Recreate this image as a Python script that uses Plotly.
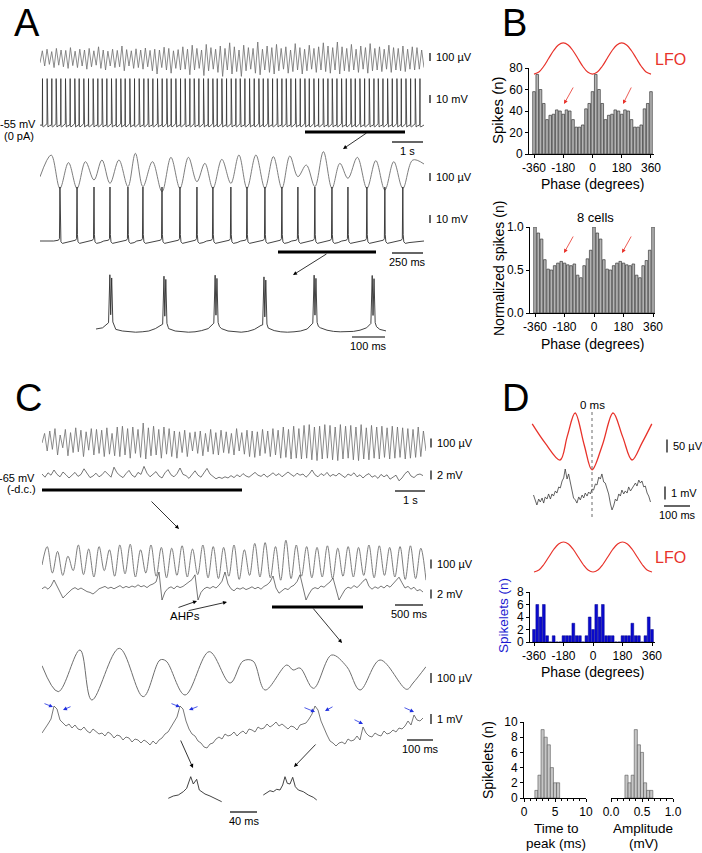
import numpy as np
import plotly.graph_objects as go

W, H = 702, 853
FONT = "Liberation Sans, Arial, Helvetica, sans-serif"

# ======================= DATA =======================
# ---- Panel B: spike-phase histograms (20 deg bins) ----
phase_bins = list(range(-360, 361, 20))
b_spikes = [58, 74, 60, 47, 32, 36, 37, 41, 40, 37, 41, 40, 32, 25, 25, 27, 42, 47,
            58, 74, 60, 47, 32, 36, 37, 41, 40, 37, 41, 40, 32, 25, 25, 27, 42, 47, 58]
b_norm = [1.0, 0.93, 0.86, 0.62, 0.51, 0.50, 0.55, 0.58, 0.60, 0.58, 0.56, 0.55, 0.57, 0.44, 0.41, 0.55, 0.63, 0.73,
          1.0, 0.93, 0.86, 0.62, 0.51, 0.50, 0.55, 0.58, 0.60, 0.58, 0.56, 0.55, 0.57, 0.44, 0.41, 0.55, 0.61, 0.73, 1.0]
# ---- Panel D: spikelet-phase histogram ----
d_spikelets = [2, 6, 4, 6, 1, 0, 1, 0, 0, 1, 1, 1, 3, 1, 1, 0, 1, 4,
               2, 6, 4, 6, 1, 1, 1, 0, 0, 1, 1, 1, 3, 1, 1, 0, 1, 4, 2]
# LFO reference wave drawn above the phase histograms
lfo_phase = list(range(-360, 361, 30))
lfo_shape = [-1.0, -0.87, -0.5, 0.0, 0.5, 0.87, 1.0, 0.87, 0.5, 0.0, -0.5, -0.87, -1.0,
             -0.87, -0.5, 0.0, 0.5, 0.87, 1.0, 0.87, 0.5, 0.0, -0.5, -0.87, -1.0]
# ---- Panel D: time-to-peak and amplitude histograms ----
ttp_bins = [2.0, 2.5, 3.0, 3.5, 4.0, 4.5, 5.0, 5.5]
ttp_counts = [1, 3, 9, 8, 7, 4, 2, 2]
amp_bins = [0.25, 0.30, 0.35, 0.40, 0.45, 0.50, 0.55, 0.60, 0.65]
amp_counts = [3, 2, 3, 9, 7, 6, 2, 1, 1]

# ---- Panel A, top: LFP extrema (uV) over 12.35 s and spike times (s) ----
a1_dur = 12.35
a1_lfp = [-60, 90, -100, 110, -80, 80, -120, 120, -90, 100, -110, 95, -130, 130, -95, 85, -120, 110, -100, 100,
          -140, 120, -110, 90, -90, 140, -130, 100, -150, 85, -100, 110, -120, 95, -110, 150, -160, 105, -100, 90,
          -130, 115, -120, 100, -140, 125, -110, 95, -160, 110, -200, 100, -120, 135, -150, 120, -190, 90, -130, 105,
          -150, 140, -140, 110, -210, 160, -150, 120, -130, 100, -220, 170, -160, 130, -140, 110, -180, 150, -230, 120,
          -150, 190, -200, 140, -170, 100, -230, 160, -160, 130, -140, 120, -190, 200, -210, 110, -150, 150, -180, 130,
          -200, 170, -160, 120, -140, 140, -190, 100, -170, 180, -150, 130, -200, 110, -160, 160, -140, 120, -180, 140,
          -150, 190, -170, 150, -190, 130, -150, 200, -200, 140, -160, 120, -170, 170, -150, 110, -180, 150, -140, 130,
          -190, 180, -160, 120, -150, 140, -170, 110, -140, 160, -180, 130, -150, 120, -160, 150, -170, 110, -140, 140,
          -150, 130, -140, 100, -120]
a1_spk = [0.08, 0.23, 0.38, 0.52, 0.67, 0.82, 0.97, 1.12, 1.26, 1.41, 1.56, 1.71, 1.86, 2.00, 2.15, 2.30, 2.45,
          2.60, 2.74, 2.89, 3.04, 3.19, 3.34, 3.48, 3.63, 3.78, 3.93, 4.08, 4.22, 4.37, 4.52, 4.67, 4.82, 4.96,
          5.11, 5.26, 5.41, 5.56, 5.70, 5.85, 6.00, 6.15, 6.30, 6.44, 6.59, 6.74, 6.89, 7.04, 7.18, 7.33, 7.48,
          7.63, 7.78, 7.92, 8.07, 8.22, 8.37, 8.52, 8.66, 8.81, 8.96, 9.11, 9.26, 9.40, 9.55, 9.70, 9.85, 10.00,
          10.14, 10.29, 10.44, 10.59, 10.74, 10.88, 11.03, 11.18, 11.33, 11.48, 11.62, 11.77, 11.92, 12.07, 12.22]

# ---- Panel A, middle (expanded, 3.1 s) ----
a2_dur = 3.1
a2_spk = [0.161, 0.299, 0.436, 0.565, 0.710, 0.831, 0.985, 1.130, 1.267, 1.396, 1.541, 1.671, 1.816,
          1.953, 2.082, 2.219, 2.357, 2.486, 2.639, 2.784, 2.929]
a2_lfp_t = [0.0, 0.09, 0.161, 0.23, 0.299, 0.367, 0.436, 0.50, 0.565, 0.637, 0.71, 0.77, 0.831, 0.908, 0.985,
            1.057, 1.13, 1.198, 1.267, 1.331, 1.396, 1.468, 1.541, 1.606, 1.671, 1.743, 1.816, 1.884, 1.953,
            2.017, 2.082, 2.15, 2.219, 2.288, 2.357, 2.421, 2.486, 2.562, 2.639, 2.711, 2.784, 2.856, 2.929,
            3.01, 3.1]
a2_lfp_v = [-60, 212, -204, 117, -204, 129, -100, 150, -142, 150, -183, 233, -183, 129, -246,
            183, -204, 183, -121, 108, -204, 158, -142, 212, -204, 212, -204, 192, -204,
            200, -58, 87, -183, 254, -204, 108, -79, 183, -204, 142, -225, 129, -204,
            150, 100]

# ---- Panel A, bottom (0.88 s): doublet spike times and baseline Vm (mV, every 20 ms) ----
a3_spk = [0.042, 0.206, 0.361, 0.509, 0.661, 0.837]
a3_base = [-57.5, -56, -51, -58, -60, -61, -61.5, -61, -60, -57, -52, -57, -60, -61, -61.5, -61, -59.5, -57,
           -52, -57, -60, -61, -61.5, -60.5, -58, -53, -56, -59.5, -61, -61.5, -61, -60, -57.5, -52, -56,
           -59, -60.5, -61, -61, -60.5, -59, -56, -52, -58, -60]

# ---- Panel C, top (12.8 s): LFP extrema (uV) and Vm deviations (mV, 0.1 s apart) ----
c1_dur = 12.8
c1_lfp = [0, 120, -100, 150, -80, 180, -150, 100, -60, 170, -160, 130, -120, 190, -110, 160, -170, 140, -90, 180,
          -150, 170, -130, 160, -170, 190, -140, 120, -160, 200, -170, 210, -150, 180, -190, 200, -130, 170, -180, 250,
          -200, 190, -160, 210, -150, 170, -190, 200, -140, 180, -170, 150, -190, 140, -120, 160, -170, 130, -100, 140,
          -130, 150, -160, 120, -110, 170, -140, 130, -150, 160, -120, 140, -130, 120, -150, 180, -100, 130, -140, 160,
          -170, 150, -180, 140, -160, 170, -130, 150, -170, 180, -150, 160, -190, 200, -180, 170, -200, 210, -190, 180,
          -200, 220, -190, 230, -210, 200, -220, 210, -200, 230, -190, 220, -210, 200, -220, 230, -200, 210, -190, 220,
          -210, 200, -220, 230, -200, 190, -210, 220, -190, 200, -200, 210, -180, 190, -200, 210, -190, 200, -180, 190,
          -200, 180, -190, 170, -180, 200, -170, 150, -100]
c1_vm = [0.5, -0.3, 0.8, 0.2, 1.5, 0.4, -0.2, 1.0, 0.3, -0.5, 0.2, 0.9, -0.1, 0.4, 1.8, 0.6, -0.4, 0.0, 0.7, -0.2,
         0.3, 1.2, 0.5, -0.3, 2.2, 0.8, 0.1, -0.4, 0.6, 1.4, 0.2, -0.3, 0.9, 0.4, 2.4, 0.7, -0.2, 0.5, 1.1, 0.0,
         -0.5, 0.8, 1.6, 0.3, -0.2, 0.6, 2.0, 0.4, 0.1, -0.6, 0.5, 1.3, 0.2, -0.3, 0.8, 1.9, 0.5, -0.2, -0.7, -0.3,
         -0.6, -0.2, -0.5, 0.1, -0.4, 0.3, -0.2, 0.6, 0.0, -0.3, 0.4, 0.9, 0.2, -0.1, 0.5, -0.3, 0.2, 0.8, 0.1, 0.6,
         -0.2, 0.3, 1.0, 0.4, -0.1, 0.7, 0.2, 0.5, -0.3, 0.4, 1.5, 0.3, -0.2, 0.6, 0.1, 0.9, -0.1, 0.4, 0.0, 0.7,
         0.2, -0.4, 0.5, 0.1, 0.8, -0.2, 0.3, -0.5, 0.2, 0.6, -0.3, 0.1, -0.6, 0.4, -0.2, 0.3, -0.8, -0.3, 0.2, -1.2,
         -0.5, 0.6, 1.2, 0.0, -0.4, 0.3, 0.5, 0.1]

# ---- Panel C, middle (6.4 s) ----
c2_dur = 6.4
c2_lfp = [-50, 180, -150, 120, -180, 60, -120, 200, -170, 150, -200, 180, -120, 140, -190, 200, -160, 210, -200, 140,
          -150, 200, -190, 170, -210, 160, -180, 190, -200, 150, -170, 200, -210, 180, -220, 170, -190, 200, -230, 140,
          -180, 220, -200, 230, -210, 180, -240, 260, -220, 200, -190, 180, -210, 170, -200, 190, -220, 160, -190, 180,
          -200, 170, -180, 200, -210, 190, -180, 170, -200, 180, -230, 190, -220, 160, -240]
c2_vm = [0.3, 0.8, 0.2, 1.0, 2.5, 0.9, -0.8, -2.0, -1.2, -0.5, 0.2, 0.6, 0.1, 0.5, 0.0, -0.4, -0.6, -1.0, -0.4, 0.3,
         0.6, 0.9, 0.4, 0.7, 0.3, 0.8, 1.1, 0.5, 0.9, 0.6, 1.0, 0.7, 1.3, 0.8, 1.1, 0.6, 1.2, 1.5, 2.0, 4.5,
         -2.5, -0.5, 0.4, 0.8, 0.3, 1.0, 0.6, 0.9, 1.4, 2.0, 2.6, 3.8, -2.5, -0.6, 0.3, 0.7, 0.4, 0.9, 0.5, 1.2,
         2.2, 4.5, 1.5, 0.3, -0.2, 0.5, 0.2, 0.6, 0.1, 0.4, 0.8, 0.3, 0.7, 0.2, 0.9, 1.3, 2.0, 3.5, 0.5, -0.8,
         -0.3, 0.4, 0.1, 0.8, 1.2, 2.1, 3.8, 0.4, -2.5, -1.0, 0.2, 0.6, 0.3, 1.0, 0.7, 1.4, 2.0, 3.0, 0.3, -2.5,
         -1.2, 0.1, 0.7, 0.4, 1.1, 0.6, 1.3, 2.2, 2.8, 0.9, 0.2, 0.8, 0.4, 1.0, 0.5, 1.2, 0.7, 1.6, 2.4, 3.2,
         1.8, 0.5, 0.9, 0.2, 0.7, -0.2, 0.1, -0.5]

# ---- Panel C, bottom (1.4 s) ----
c3_dur = 1.396
c3_lfp_t = [0.000, 0.059, 0.138, 0.181, 0.281, 0.368, 0.429, 0.451, 0.520, 0.608, 0.684, 0.731, 0.767,
            0.811, 0.890, 0.913, 0.938, 0.987, 1.053, 1.108, 1.156, 1.229, 1.326, 1.349, 1.396]
c3_lfp_v = [112, -200, 300, -300, 320, -260, 180, 168, -240, 280, -96, 168, 168,
            -180, 120, 60, 84, -160, 240, 100, -180, 180, -172, -96, 100]
c3_vm = [-0.3, 0.1, 0.6, 1.1, 2.4, 2.1, 1.0, 0.7, 0.4, 0.6, 0.2, 0.5, 0.1, 0.0, 0.3, -0.1, -0.3, 0.1, -0.2, -0.4,
         -0.3, -0.6, -0.2, -0.4, -0.8, -0.5, -0.6, -1.0, -0.7, -0.8, -1.2, -0.9, -1.0, -1.3, -1.0, -1.2, -1.5, -1.1, -1.4, -1.0,
         -0.8, -0.4, -0.2, 0.3, 0.7, 1.3, 2.4, 2.1, 0.9, 0.1, -0.4, -0.6, -1.1, -1.3, -1.7, -1.8, -1.4, -1.3, -0.9, -0.7,
         -0.9, -0.4, -0.6, -0.5, -0.2, -0.6, -0.3, -0.1, -0.4, 0.1, 0.0, -0.2, 0.3, 0.1, 0.2, 0.6, 0.3, 0.5, 0.8, 0.4,
         0.6, 0.3, 0.1, 0.4, 0.3, 0.0, 0.5, 0.6, 0.7, 1.1, 1.6, 2.4, 2.0, 0.9, 0.1, -0.5, -1.1, -1.3, -1.6, -1.3,
         -1.2, -1.4, -0.9, -1.1, -1.0, -0.6, -1.0, 0.3, -0.3, -0.6, -0.7, -0.3, -0.5, -0.6, -0.1, -0.4, -0.3, 0.0, -0.2, 0.2,
         0.1, 0.4, 0.9, 0.5, 1.5, 1.0, 0.9, 1.2]
# spikelet insets (ms, mV)
ins1_t = [0, 7.4, 14.8, 22.2, 27.2, 33.2, 37.0, 42.0, 45.9, 54.3, 61.7, 69.1, 79.0]
ins1_v = [0.0, 0.23, 0.33, 0.66, 1.0, 2.16, 1.43, 1.9, 0.83, 0.43, 0.23, 0.0, -0.34]
ins2_t = [0, 5.0, 9.9, 14.8, 19.8, 24.7, 28.7, 32.1, 35.5, 39.5, 43.5, 47.4, 51.8, 59.2, 66.6, 74.0, 79.1]
ins2_v = [0, 0.23, 0.43, 0.33, 0.57, 0.5, 1.0, 1.83, 1.17, 1.1, 1.77, 0.83, 0.5, 0.33, 0.0, -0.23, -0.5]

# ---- Panel D: spike-triggered averages (ms) ----
d_lfp_t = [-230, -180, -123, -95, -65, -30, 0, 40, 81, 118, 154, 192, 230]
d_lfp_v = [62, -12, -77, 15, 104, -19, -115, -19, 104, 12, -77, -12, 62]
d_vm_t = [-225, -218, -212, -205, -199, -192, -186, -180, -173, -167, -160, -154, -148, -141, -135, -128, -122,
          -115, -109, -103, -96, -90, -83, -77, -71, -64, -58, -51, -45, -38, -32, -26, -19, -13, -6, 0, 6, 13,
          19, 26, 32, 38, 45, 51, 58, 64, 71, 77, 83, 90, 96, 103, 109, 115, 122, 128, 135, 141, 148, 154, 160,
          167, 173, 180, 186, 192, 199, 205, 212, 218, 225]
d_vm_v = [0.0, -0.38, -0.77, -0.31, -0.54, -0.23, -0.62, -0.15, -0.31, 0.08, -0.31, 0.08, -0.08, 0.31, 0.15, 0.62,
          0.54, 1.08, 1.31, 2.0, 1.23, 1.62, 0.85, 0.31, -0.23, -0.38, -0.62, -0.15, -0.38, 0.0, -0.23, 0.15, -0.08,
          0.23, 0.08, 0.46, 0.38, 0.85, 0.77, 1.38, 1.23, 1.62, 1.0, 0.92, 0.54, 0.08, -0.69, -1.15, -0.85, -0.31,
          -0.46, 0.08, -0.08, 0.38, 0.08, 0.31, 0.15, 0.62, 0.31, 0.54, 0.69, 0.92, 0.69, 1.15, 0.92, 1.08, 0.62,
          0.69, 0.15, -0.08, -0.54]

# ======================= FIGURE HELPERS =======================
layout = dict(width=W, height=H, margin=dict(l=0, r=0, t=0, b=0, pad=0), paper_bgcolor="white",
              plot_bgcolor="rgba(0,0,0,0)", showlegend=False, barmode="overlay", autosize=False,
              font=dict(family=FONT, size=11, color="black"))
traces, shapes, annots = [], [], []
n_ax = [0]


def px(x):
    return x / W


def py(y):
    return 1 - y / H


def new_axes(box, xr, yr, xstyle=None, ystyle=None):
    n_ax[0] += 1
    s = "" if n_ax[0] == 1 else str(n_ax[0])
    x0, x1, y0, y1 = box
    xa = dict(domain=[px(x0), px(x1)], range=xr, anchor="y" + s, visible=False, fixedrange=True, automargin=False)
    ya = dict(domain=[py(y1), py(y0)], range=yr, anchor="x" + s, visible=False, fixedrange=True, automargin=False)
    if xstyle:
        xa.update(xstyle)
    if ystyle:
        ya.update(ystyle)
    layout["xaxis" + s] = xa
    layout["yaxis" + s] = ya
    return "x" + s, "y" + s


def trace_axes(x0, x1, y0, y1, t0, tpp, vref, yref, vpp):
    xr = [t0, t0 + (x1 - x0) * tpp]
    yr = [vref - (y1 - yref) * vpp, vref + (yref - y0) * vpp]
    return new_axes((x0, x1, y0, y1), xr, yr)


def add_line(ax, x, y, color, width=0.9, shape="linear"):
    traces.append(go.Scatter(x=list(x), y=list(y), xaxis=ax[0], yaxis=ax[1], mode="lines",
                             line=dict(color=color, width=width, shape=shape), hoverinfo="skip"))


def spike_train(times, base_t, base_v, tdt, tdv):
    base_t = np.asarray(base_t, float)
    base_v = np.asarray(base_v, float)
    lo, hi = min(tdt), max(tdt)
    keep = np.ones(len(base_t), bool)
    for ts in times:
        keep &= ~((base_t > ts + lo) & (base_t < ts + hi))
    pts = [(t, v) for t, v, k in zip(base_t, base_v, keep) if k]
    for ts in times:
        b = float(np.interp(ts, base_t, base_v))
        pts += [(ts + d, b + dv) for d, dv in zip(tdt, tdv)]
    pts.sort()
    return [p[0] for p in pts], [p[1] for p in pts]


def hline(x0, x1, y, w=1.0, color="black", dash=None):
    ln = dict(color=color, width=w)
    if dash:
        ln["dash"] = dash
    shapes.append(dict(type="line", xref="paper", yref="paper", x0=px(x0), x1=px(x1), y0=py(y), y1=py(y), line=ln))


def vline(x, y0, y1, w=1.0, color="black", dash=None):
    ln = dict(color=color, width=w)
    if dash:
        ln["dash"] = dash
    shapes.append(dict(type="line", xref="paper", yref="paper", x0=px(x), x1=px(x), y0=py(y0), y1=py(y1), line=ln))


def text(x, y, s, size=11, color="black", xanchor="left", yanchor="middle", angle=0):
    annots.append(dict(x=px(x), y=py(y), xref="paper", yref="paper", text=s, showarrow=False,
                       xanchor=xanchor, yanchor=yanchor, textangle=angle,
                       font=dict(family=FONT, size=size, color=color)))


def arrow(tx, ty, hx, hy, color="black", w=0.8):
    annots.append(dict(x=px(hx), y=py(hy), xref="paper", yref="paper", ax=tx - hx, ay=ty - hy,
                       axref="pixel", ayref="pixel", showarrow=True, arrowhead=2, arrowsize=1.0,
                       arrowwidth=w, arrowcolor=color, text="", standoff=0, startstandoff=0))


def vscale(x, yc, length, label, size=11):
    vline(x, yc - length / 2, yc + length / 2, w=1.2)
    text(x + 4, yc, label, size=size)


def tscale(x0, x1, y, label, size=11):
    hline(x0, x1, y, w=1.2)
    text((x0 + x1) / 2, y + 9, label, size=size, xanchor="center")


GREY_LFP = "#6e6e6e"
DARK = "#2e2e2e"

# ======================= PANEL A =======================
ax = trace_axes(40, 424, 36, 80, 0, a1_dur / 384, 0, 58, 12.5)
add_line(ax, np.linspace(0, a1_dur, len(a1_lfp)), a1_lfp, GREY_LFP, 0.8)
ax = trace_axes(40, 424, 76, 130, 0, a1_dur / 384, -55, 125, 1.25)
sx, sy = spike_train(a1_spk, [0, a1_dur], [-55, -55], [-0.03, -0.006, 0, 0.006, 0.025, 0.07],
                     [-0.5, 1.5, 58, -1.5, -2.5, -1.0])
add_line(ax, sx, sy, DARK, 0.8)

ax = trace_axes(40, 424, 145, 205, 0, a2_dur / 384, 0, 172, 12.5)
add_line(ax, a2_lfp_t, a2_lfp_v, GREY_LFP, 0.9, "spline")
ax = trace_axes(40, 424, 180, 248, 0, a2_dur / 384, -55, 241, 1.25)
sx, sy = spike_train(a2_spk, [0, a2_dur], [-55, -55], [-0.05, -0.012, -0.004, 0, 0.003, 0.008, 0.02, 0.05],
                     [0, 1.0, 3, 67.5, 8, -1, -3, -2])
add_line(ax, sx, sy, DARK, 0.9)

a3_t = np.linspace(0, 0.88, len(a3_base))
ax = trace_axes(96, 386, 268, 336, 0, 0.1 / 33, -50, 323, 1.25)
sx, sy = spike_train(a3_spk, a3_t, a3_base, [-0.004, 0, 0.0025, 0.0055, 0.009, 0.013],
                     [2, 62, 12, 58, 3, -2])
add_line(ax, sx, sy, DARK, 0.9)

text(27, 23, "A", size=38, xanchor="center")
vscale(430, 57, 8, "100 µV")
vscale(430, 99, 8, "10 mV")
text(38, 124, "-55 mV", xanchor="right")
text(19, 136, "(0 pA)", xanchor="center")
hline(305, 405, 132, w=3.2)
arrow(368, 132, 343, 149)
tscale(392, 423, 142, "1 s")
vscale(430, 177, 8, "100 µV")
vscale(430, 219, 8, "10 mV")
hline(278, 376, 252, w=3.2)
arrow(328, 253, 293, 275)
tscale(392, 423, 253, "250 ms")
tscale(352, 385, 337, "100 ms")

# ======================= PANEL B =======================
hist_x = dict(visible=True, showline=True, linecolor="black", linewidth=1, ticks="outside", ticklen=3,
              tickwidth=1, tickcolor="black", showgrid=False, zeroline=False,
              tickfont=dict(family=FONT, size=12), tickmode="array",
              tickvals=[-360, -180, 0, 180, 360], ticktext=["-360", "-180", "0", "180", "360"])


def hist_y(vals, txt=None):
    d = dict(visible=True, showline=True, linecolor="black", linewidth=1, ticks="outside", ticklen=3,
             tickwidth=1, tickcolor="black", showgrid=False, zeroline=False,
             tickfont=dict(family=FONT, size=12), tickmode="array", tickvals=vals)
    if txt:
        d["ticktext"] = txt
    return d


ax = new_axes((529, 654, 68, 154), [-390.8, 378.5], [0, 80], hist_x, hist_y([0, 20, 40, 60, 80]))
traces.append(go.Bar(x=phase_bins, y=b_spikes, width=16, xaxis=ax[0], yaxis=ax[1], hoverinfo="skip",
                     marker=dict(color="#b4b4b4", line=dict(color="#3a3a3a", width=0.7))))
ax = new_axes((529, 654, 40, 77), [-390.8, 378.5], [-1.19, 1.19])
add_line(ax, lfo_phase, lfo_shape, "#e8322a", 1.2, "spline")
text(514, 23, "B", size=38, xanchor="center")
text(670, 60, "LFO", size=16, color="#e8322a", xanchor="center")
text(497, 110, "Spikes (n)", size=15, xanchor="center", angle=-90)
text(593, 184, "Phase (degrees)", size=14, xanchor="center")
arrow(574, 86, 564, 104, color="#e8322a")
arrow(632, 86, 623, 104, color="#e8322a")

ax = new_axes((530, 655, 227, 313), [-390.5, 372.2], [0, 1.0], hist_x,
              hist_y([0, 0.5, 1.0], ["0.0", "0.5", "1.0"]))
traces.append(go.Bar(x=phase_bins, y=b_norm, width=16, xaxis=ax[0], yaxis=ax[1], hoverinfo="skip",
                     marker=dict(color="#b4b4b4", line=dict(color="#3a3a3a", width=0.7))))
text(595, 217, "8 cells", size=13, xanchor="center")
text(499, 268, "Normalized spikes (n)", size=14, xanchor="center", angle=-90)
text(593, 344, "Phase (degrees)", size=14, xanchor="center")
arrow(574, 235, 564, 253, color="#e8322a")
arrow(632, 235, 622, 253, color="#e8322a")

# ======================= PANEL C =======================
ax = trace_axes(42, 426, 418, 468, 0, c1_dur / 384, 0, 443, 12.5)
add_line(ax, np.linspace(0, c1_dur, len(c1_lfp)), c1_lfp, GREY_LFP, 0.8)
ax = trace_axes(42, 426, 462, 490, 0, c1_dur / 384, 0, 476, 0.25)
add_line(ax, np.linspace(0, c1_dur * 381 / 384, len(c1_vm)), c1_vm, "#3c3c3c", 0.7)

ax = trace_axes(42, 426, 535, 585, 0, c2_dur / 384, 0, 561, 12.5)
add_line(ax, np.linspace(0, c2_dur, len(c2_lfp)), c2_lfp, GREY_LFP, 0.9, "spline")
ax = trace_axes(42, 426, 572, 605, 0, c2_dur / 384, 0, 590, 0.25)
add_line(ax, np.linspace(0, c2_dur * 381 / 384, len(c2_vm)), c2_vm, "#3c3c3c", 0.7)

ax = trace_axes(42, 426, 640, 710, 0, c3_dur / 384, 0, 675, 12)
add_line(ax, c3_lfp_t, c3_lfp_v, GREY_LFP, 1.0, "spline")
ax = trace_axes(42, 426, 700, 755, 0, c3_dur / 384, 0, 730, 0.1)
add_line(ax, np.linspace(0, c3_dur * 381 / 384, len(c3_vm)), c3_vm, "#555555", 0.8)

ax = trace_axes(166, 224, 772, 805, -3.4, 1.48, 0, 798.3, 0.1)
add_line(ax, ins1_t, ins1_v, DARK, 0.9)
ax = trace_axes(261, 319, 772, 805, -3.4, 1.48, 0, 795, 0.1)
add_line(ax, ins2_t, ins2_v, DARK, 0.9)

text(29, 398, "C", size=38, xanchor="center")
vscale(431, 443, 9, "100 µV")
vscale(431, 475, 9, "2 mV")
text(37, 478, "-65 mV", xanchor="right")
text(21, 489, "(-d.c.)", xanchor="center")
hline(42, 242, 490, w=3.2)
tscale(395, 425, 491, "1 s")
arrow(150, 500, 179, 529)
vscale(431, 564, 9, "100 µV")
vscale(431, 594, 9, "2 mV")
text(185, 616, "AHPs", size=11.5, xanchor="center")
arrow(177, 608, 197, 601)
arrow(187, 611, 227, 602)
hline(272, 363, 607, w=3.2)
arrow(312, 607, 342, 643)
tscale(395, 423, 605, "500 ms")
vscale(431, 678, 10, "100 µV")
vscale(431, 719, 10, "1 mV")
tscale(407, 433, 740, "100 ms")
for tx, ty, hx, hy in [(43, 703, 53, 707), (72, 706, 63, 710), (170, 703, 180, 707), (199, 706, 189, 710),
                       (303, 707, 315, 712), (334, 706, 325, 711), (353, 719, 363, 724), (403, 707, 414, 712)]:
    arrow(tx, ty, hx, hy, color="#2030e0")
arrow(180, 739, 193, 768)
arrow(317, 743, 294, 767)
tscale(230, 257, 812, "40 ms")

# ======================= PANEL D =======================
ax = trace_axes(530, 654, 408, 475, -238.5, 3.846, 0, 440, 3.85)
add_line(ax, d_lfp_t, d_lfp_v, "#e8322a", 1.3, "spline")
ax = trace_axes(530, 654, 465, 520, -238.5, 3.846, 0, 495, 0.077)
add_line(ax, d_vm_t, d_vm_v, "#3c3c3c", 0.8)
vline(592, 412, 517, w=0.8, color="#444444", dash="dot")
text(515, 398, "D", size=38, xanchor="center")
text(592, 405, "0 ms", size=11.5, xanchor="center")
vscale(667, 446, 13, "50 µV")
vscale(665, 493, 13, "1 mV")
tscale(664, 690, 506, "100 ms")

ax = new_axes((530, 655, 592, 642), [-384.4, 378.3], [0, 8], hist_x, hist_y([0, 2, 4, 6, 8]))
traces.append(go.Bar(x=phase_bins, y=d_spikelets, width=17, xaxis=ax[0], yaxis=ax[1], hoverinfo="skip",
                     marker=dict(color="#0a0ad0", line=dict(color="#00008a", width=0.5))))
ax = new_axes((530, 655, 539, 575), [-384.4, 378.3], [-1.2, 1.2])
add_line(ax, lfo_phase, lfo_shape, "#e8322a", 1.2, "spline")
text(670, 557, "LFO", size=16, color="#e8322a", xanchor="center")
text(503, 616, "Spikelets (n)", size=13.5, color="#1a1ad0", xanchor="center", angle=-90)
text(593, 672, "Phase (degrees)", size=14, xanchor="center")

small_x = dict(visible=True, showline=True, linecolor="black", linewidth=1, ticks="outside", ticklen=3,
               tickwidth=1, tickcolor="black", showgrid=False, zeroline=False,
               tickfont=dict(family=FONT, size=12), tickmode="array")
ax = new_axes((524, 586, 722, 798), [0, 10], [0, 10],
              dict(small_x, tickvals=[0, 5, 10], ticktext=["0", "5", "10"],
                   minor=dict(ticks="outside", ticklen=2, tickcolor="black", dtick=1, showgrid=False)),
              hist_y([0, 2, 4, 6, 8, 10]))
traces.append(go.Bar(x=ttp_bins, y=ttp_counts, width=0.5, xaxis=ax[0], yaxis=ax[1], hoverinfo="skip",
                     marker=dict(color="#c6c6c6", line=dict(color="#555555", width=0.6))))
ax = new_axes((611, 673, 722, 798), [0, 1.0], [0, 10],
              dict(small_x, tickvals=[0, 0.5, 1.0], ticktext=["0.0", "0.5", "1.0"],
                   minor=dict(ticks="outside", ticklen=2, tickcolor="black", dtick=0.1, showgrid=False)))
traces.append(go.Bar(x=amp_bins, y=amp_counts, width=0.05, xaxis=ax[0], yaxis=ax[1], hoverinfo="skip",
                     marker=dict(color="#c6c6c6", line=dict(color="#555555", width=0.6))))
text(488, 760, "Spikelets (n)", size=14, xanchor="center", angle=-90)
text(556, 828, "Time to", size=13.5, xanchor="center")
text(556, 843, "peak (ms)", size=13.5, xanchor="center")
text(643, 828, "Amplitude", size=13.5, xanchor="center")
text(643, 843, "(mV)", size=13.5, xanchor="center")

layout["shapes"] = shapes
layout["annotations"] = annots
fig = go.Figure(data=traces, layout=layout)
fig.write_html("out.html", config={"displayModeBar": False, "staticPlot": True},
               post_script=["document.body.style.margin='0px';document.body.style.padding='0px';"
                            "document.documentElement.style.overflow='hidden';"
                            "document.body.style.overflow='hidden';"])
